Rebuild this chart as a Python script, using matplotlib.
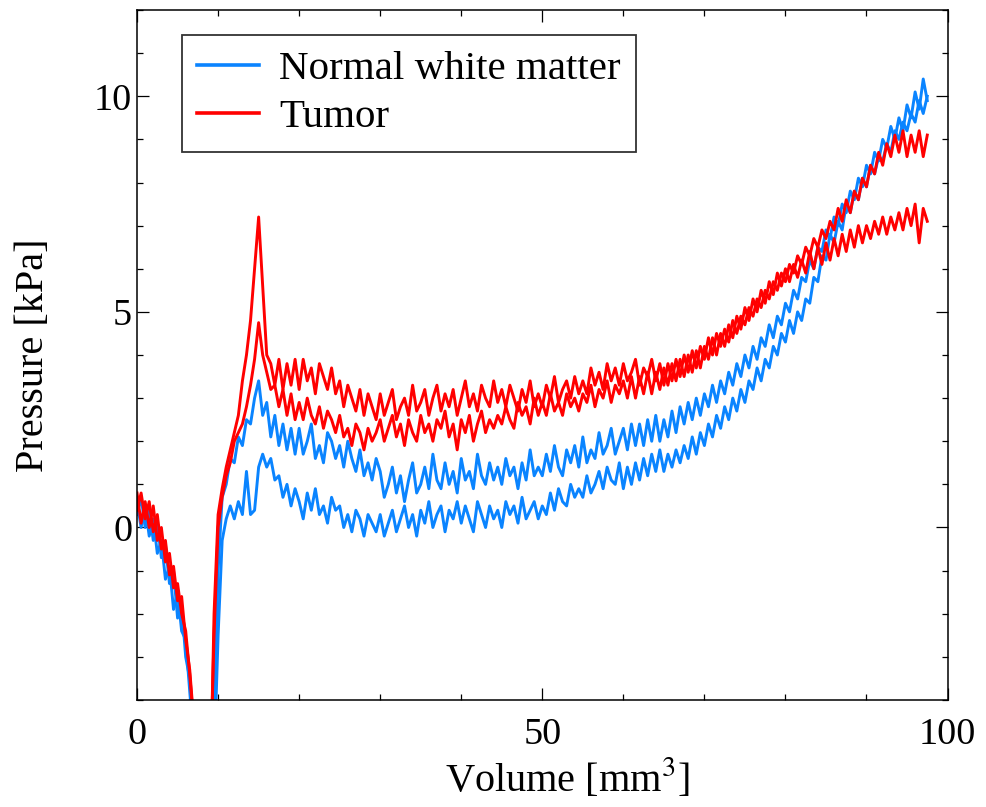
import matplotlib

matplotlib.use("Agg")
import matplotlib.pyplot as plt
from matplotlib.ticker import MultipleLocator
import numpy as np

plt.rcParams["font.family"] = ["Liberation Serif", "DejaVu Serif"]
plt.rcParams["mathtext.fontset"] = "stix"

volume = np.arange(0, 98, 0.5)

normal_1 = [
    0.6, 0.0, 0.5, -0.2, 0.2, -0.6, -0.3, -1.2, -0.9, -1.9,
    -1.5, -2.4, -2.6, -3.8, -5.0, -6.5, -7.5, -7.5, -6.5, -4.5,
    -1.0, 0.7, 1.0, 1.6, 1.5, 2.1, 1.9, 2.5, 2.4, 3.0,
    3.4, 2.6, 2.9, 2.1, 2.6, 1.9, 2.4, 1.8, 2.3, 1.7,
    2.3, 1.7, 2.0, 2.4, 1.6, 1.9, 1.5, 2.2, 2.0, 1.6,
    1.9, 1.4, 2.0, 1.6, 1.3, 1.8, 1.2, 1.5, 1.1, 1.6,
    1.3, 0.7, 1.0, 1.4, 0.8, 1.2, 0.6, 1.1, 1.5, 0.8,
    1.0, 1.4, 0.9, 1.7, 1.1, 0.9, 1.5, 1.0, 1.3, 0.8,
    1.6, 1.1, 1.3, 0.9, 1.7, 1.2, 1.0, 1.5, 1.1, 1.4,
    1.0, 1.6, 1.2, 1.4, 0.9, 1.5, 1.1, 1.8, 1.2, 1.4,
    1.2, 1.7, 1.3, 1.9, 1.4, 1.2, 1.8, 1.5, 1.9, 1.4,
    2.1, 1.5, 1.8, 1.6, 2.2, 1.7, 1.9, 2.3, 1.7, 2.0,
    2.3, 1.8, 2.4, 1.9, 2.4, 1.9, 2.5, 2.0, 2.6, 2.0,
    2.5, 2.1, 2.7, 2.2, 2.8, 2.4, 2.9, 2.5, 3.0, 2.6,
    3.1, 2.8, 3.3, 2.9, 3.4, 3.1, 3.6, 3.3, 3.8, 3.5,
    4.0, 3.7, 4.2, 3.9, 4.4, 4.2, 4.7, 4.4, 4.9, 4.7,
    5.2, 5.0, 5.5, 5.3, 5.8, 5.7, 6.2, 6.0, 6.5, 6.4,
    6.9, 6.7, 7.2, 7.0, 7.5, 7.3, 7.8, 7.6, 8.1, 7.9,
    8.4, 8.2, 8.7, 8.5, 9.0, 8.8, 9.3, 9.0, 9.5, 9.2,
    9.8, 9.5, 10.1, 9.7, 10.4, 9.9,
]

normal_2 = [
    0.3, 0.7, 0.0, 0.4, -0.3, 0.1, -0.7, -0.4, -1.3, -1.0,
    -2.1, -1.8, -3.0, -3.5, -4.8, -6.2, -7.2, -7.8, -7.0, -5.5,
    -2.5, -0.3, 0.2, 0.5, 0.2, 0.6, 0.3, 1.3, 0.3, 0.4,
    1.4, 1.7, 1.4, 1.6, 1.1, 1.2, 0.7, 1.0, 0.5, 0.9,
    0.6, 0.2, 0.8, 0.4, 0.9, 0.3, 0.5, 0.1, 0.7, 0.4,
    0.5, 0.0, 0.3, -0.1, 0.4, 0.2, -0.2, 0.3, 0.1, -0.1,
    0.3, -0.2, 0.1, 0.4, -0.1, 0.2, 0.5, 0.0, 0.3, -0.2,
    0.4, 0.1, 0.6, 0.0, 0.3, 0.5, -0.1, 0.4, 0.2, 0.6,
    0.1, 0.5, 0.2, -0.1, 0.6, 0.3, 0.0, 0.5, 0.2, 0.4,
    0.0, 0.6, 0.3, 0.5, 0.1, 0.7, 0.2, 0.4, 0.6, 0.2,
    0.5, 0.3, 0.8, 0.4, 0.9, 0.6, 0.5, 1.0, 0.7, 0.9,
    0.7, 1.2, 0.8, 1.0, 1.3, 0.9, 1.4, 1.1, 1.0, 1.5,
    0.9, 1.4, 1.0, 1.5, 1.1, 1.6, 1.2, 1.7, 1.3, 1.8,
    1.3, 1.7, 1.4, 1.8, 1.5, 1.9, 1.6, 2.1, 1.7, 2.2,
    1.9, 2.4, 2.1, 2.6, 2.3, 2.8, 2.5, 3.0, 2.7, 3.2,
    2.9, 3.4, 3.2, 3.7, 3.4, 3.9, 3.7, 4.2, 4.0, 4.5,
    4.3, 4.8, 4.5, 5.0, 4.8, 5.3, 5.2, 5.8, 5.7, 6.3,
    6.2, 6.8, 6.6, 7.1, 6.9, 7.5, 7.3, 7.8, 7.6, 8.1,
    7.9, 8.4, 8.2, 8.6, 8.5, 8.9, 8.7, 9.2, 9.0, 9.4,
    9.2, 9.6, 9.4, 9.9, 9.6, 10.0,
]

tumor_1 = [
    0.8, 0.1, 0.6, 0.0, 0.5, -0.3, 0.0, -0.8, -0.6, -1.4,
    -1.3, -2.0, -2.4, -3.4, -4.6, -6.0, -7.0, -7.5, -6.5, -2.0,
    0.3, 0.9, 1.4, 1.8, 2.2, 2.6, 3.4, 4.0, 4.8, 6.0,
    7.2, 5.6, 4.0, 3.8, 3.3, 3.9, 3.2, 3.8, 3.3, 3.9,
    3.2, 3.9, 3.4, 3.7, 3.1, 3.8, 3.5, 3.2, 3.7, 3.1,
    3.4, 2.8, 3.3, 3.0, 2.7, 3.2, 2.6, 3.1, 2.8, 2.5,
    3.1, 2.6, 2.9, 3.2, 2.5, 2.8, 3.0, 2.6, 3.3, 2.7,
    2.9, 3.2, 2.6, 3.0, 3.3, 2.7, 3.1, 2.8, 3.2, 2.6,
    3.0, 3.4, 2.8, 3.1, 2.7, 3.3, 3.0, 2.8, 3.4, 2.9,
    3.2, 2.8, 3.3, 3.0, 2.7, 3.2, 2.9, 3.4, 2.8, 3.1,
    2.8, 3.3, 3.0, 3.5, 2.9, 3.2, 3.4, 3.0, 3.5, 3.1,
    3.4, 3.1, 3.7, 3.3, 3.6, 3.2, 3.8, 3.4, 3.7, 3.3,
    3.8, 3.4, 3.6, 3.9, 3.3, 3.7, 3.5, 3.9, 3.4, 3.8,
    3.3, 3.8, 3.4, 3.9, 3.5, 4.0, 3.6, 4.1, 3.7, 4.2,
    3.9, 4.4, 4.0, 4.5, 4.2, 4.6, 4.3, 4.8, 4.5, 4.9,
    4.7, 5.1, 4.9, 5.3, 5.1, 5.5, 5.3, 5.7, 5.5, 5.9,
    5.7, 6.1, 5.9, 6.3, 6.1, 6.5, 6.3, 6.7, 6.5, 6.9,
    6.7, 7.1, 6.9, 7.4, 7.1, 7.6, 7.3, 7.8, 7.6, 8.1,
    7.9, 8.4, 8.2, 8.7, 8.4, 8.9, 8.6, 9.1, 8.7, 9.2,
    8.6, 9.1, 8.7, 9.2, 8.6, 9.1,
]

tumor_2 = [
    0.4, 0.8, 0.2, 0.6, -0.1, 0.3, -0.5, -0.3, -1.1, -0.9,
    -1.7, -1.6, -2.6, -3.3, -4.5, -5.8, -7.0, -7.5, -6.0, -2.5,
    0.0, 0.7, 1.2, 1.5, 2.0, 2.2, 2.4, 2.8, 3.3, 3.9,
    4.75, 4.0, 3.6, 3.2, 3.3, 2.8, 3.2, 2.6, 3.1, 2.5,
    2.9, 2.5, 3.0, 2.6, 2.4, 2.8, 2.3, 2.7, 2.5, 2.2,
    2.6, 2.1, 2.3, 1.9, 2.4, 2.2, 1.8, 2.3, 2.0, 2.2,
    2.5, 2.0, 2.3, 2.6, 2.1, 2.4, 1.9, 2.5, 2.2, 2.0,
    2.6, 2.2, 2.4, 2.0, 2.5, 2.3, 2.7, 2.1, 2.4, 1.8,
    2.5, 2.2, 2.6, 2.0, 2.4, 2.7, 2.2, 2.5, 2.3, 2.6,
    2.4, 2.8, 2.5, 2.3, 2.9, 2.6, 2.8, 2.4, 3.0, 2.6,
    2.9, 2.6, 3.1, 2.7, 2.9, 2.6, 3.1, 2.8, 3.0, 2.7,
    3.1, 2.9, 3.3, 2.8, 3.2, 3.0, 3.4, 2.9, 3.3, 3.1,
    3.4, 3.0, 3.5, 3.0, 3.5, 3.1, 3.6, 3.1, 3.6, 3.2,
    3.7, 3.3, 3.8, 3.4, 3.9, 3.5, 4.0, 3.6, 4.1, 3.7,
    4.2, 3.9, 4.4, 4.0, 4.5, 4.2, 4.7, 4.4, 4.9, 4.6,
    5.1, 4.8, 5.3, 5.0, 5.5, 5.2, 5.7, 5.4, 5.9, 5.6,
    6.0, 5.7, 6.1, 5.8, 6.2, 5.9, 6.4, 6.0, 6.5, 6.1,
    6.6, 6.2, 6.7, 6.3, 6.8, 6.4, 6.9, 6.5, 7.0, 6.6,
    7.0, 6.7, 7.1, 6.8, 7.2, 6.8, 7.2, 6.9, 7.3, 6.9,
    7.4, 7.0, 7.5, 6.6, 7.4, 7.1,
]

BLUE = "#0a84ff"
RED = "#ff0000"

# ── Figure ─────────────────────────────────────────────────────────
fig = plt.figure(figsize=(9.86, 8.07), dpi=100)
ax = fig.add_axes([0.139, 0.1326, 0.822, 0.855])

ax.plot(volume, normal_1, color=BLUE, lw=2.1, label="Normal white matter")
ax.plot(volume, normal_2, color=BLUE, lw=2.1)
ax.plot(volume, tumor_1, color=RED, lw=2.1, label="Tumor")
ax.plot(volume, tumor_2, color=RED, lw=2.1)

ax.set_xlim(0, 100)
ax.set_ylim(-4, 12)
ax.xaxis.set_major_locator(MultipleLocator(50))
ax.xaxis.set_minor_locator(MultipleLocator(10))
ax.yaxis.set_major_locator(MultipleLocator(5))
ax.yaxis.set_minor_locator(MultipleLocator(1))
ax.tick_params(which="both", direction="in", top=True, right=True, width=0.9)
ax.tick_params(which="major", length=8.5, labelsize=27.5)
ax.tick_params(which="minor", length=4.3)
ax.tick_params(axis="x", which="major", pad=12.5)
ax.tick_params(axis="y", which="major", pad=3.5)
for s in ax.spines.values():
    s.set_linewidth(1.1)

ax.set_xlabel(r"Volume [mm$^3$]", fontsize=29)
ax.set_ylabel("Pressure [kPa]", fontsize=29)
ax.xaxis.set_label_coords(0.531, -0.082)
ax.yaxis.set_label_coords(-0.105, 0.5)

leg = ax.legend(
    loc="upper left",
    bbox_to_anchor=(0.055, 0.9638),
    borderaxespad=0,
    fontsize=29.5,
    frameon=True,
    fancybox=False,
    edgecolor="black",
    handlelength=1.5,
    handletextpad=0.5,
    labelspacing=0.25,
    borderpad=0.38,
)
leg.get_frame().set_linewidth(1.3)
for h in leg.get_lines():
    h.set_linewidth(2.6)

fig.savefig("out.png", dpi=100)
